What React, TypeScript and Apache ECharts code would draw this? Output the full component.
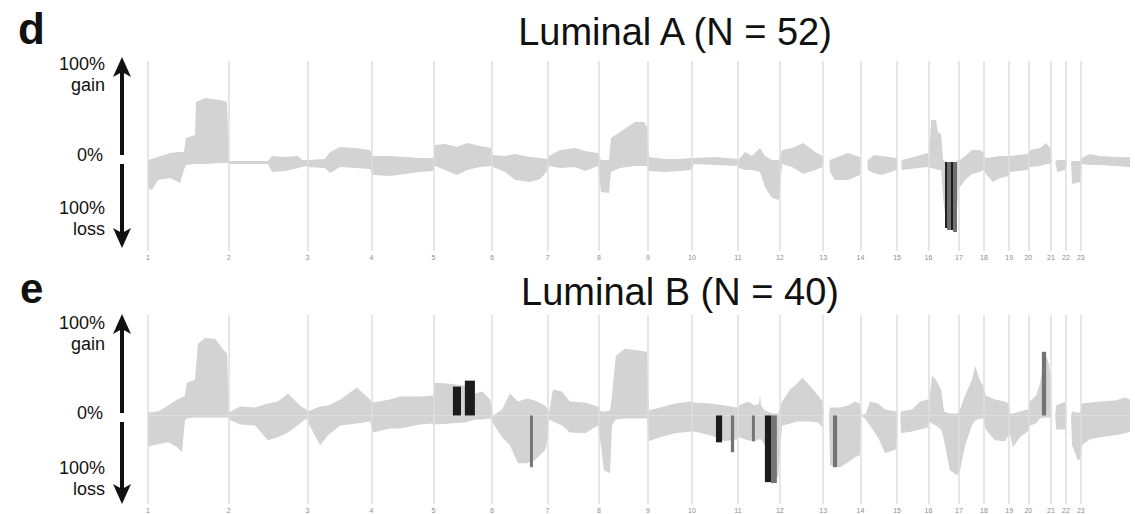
import React, { useEffect, useRef } from 'react';
import * as echarts from 'echarts';

const CHROM_LABELS = ['1','2','3','4','5','6','7','8','9','10','11','12','13','14','15','16','17','18','19','20','21','22','23'];
const CHROM_START = [0, 249, 492, 690, 881, 1062, 1233, 1392, 1543, 1679, 1821, 1950, 2084, 2199, 2312, 2409, 2503, 2580, 2658, 2717, 2787, 2833, 2879];
const GENOME_END = 3034;

// Luminal A (N = 52): genome position (Mb), gain %, loss %
const LUM_A_POS = [0,12,31,68,99,111,117,145,148,176,222,244,
  250,370,383,423,463,475,490,
  494,546,562,593,639,685,
  694,747,793,840,880,
  886,917,954,985,1025,1059,
  1065,1102,1133,1179,1210,1230,
  1238,1272,1318,1349,1389,
  1398,1423,1429,1457,1503,1531,1540,
  1546,1596,1642,1677,
  1685,1750,1818,
  1824,1843,1864,1889,1904,1926,1948,
  1957,1988,2022,2059,2082,
  2086,2103,2105,2120,2161,2197,
  2201,2220,2222,2240,2265,2310,
  2314,2325,2327,2352,2407,
  2411,2417,2432,2438,2448,2454,2463,2494,2501,
  2506,2522,2543,2568,2578,
  2586,2608,2630,2656,
  2661,2715,
  2722,2753,2772,2785,
  2790,2800,2806,2831,
  2836,2849,2852,2877,
  2883,2907,2938,2985,3031];
const LUM_A_GAIN = [2,3,5,9,10,10,24,27,60,64,62,60,
  1,1,6,5,6,2,2,
  2,3,10,15,14,12,
  6,6,5,4,4,
  17,18,15,19,16,14,
  7,6,8,5,4,3,
  6,12,14,11,9,
  2,2,24,30,40,40,35,
  5,3,3,4,
  4,5,3,
  3,10,6,14,6,2,2,
  12,14,19,10,6,
  0,0,2,4,9,5,
  0,0,2,7,6,4,
  0,0,2,4,9,
  5,42,42,30,28,2,0,0,2,
  2,6,12,12,10,
  4,5,6,6,
  6,8,
  12,14,19,14,
  0,0,2,2,
  0,0,1,1,
  4,8,6,5,5];
const LUM_A_LOSS = [26,28,18,16,21,8,3,2,2,2,1,1,
  2,2,10,9,6,5,4,
  5,6,11,5,6,7,
  13,14,12,10,9,
  4,8,13,8,5,4,
  5,10,18,20,17,10,
  4,6,5,9,4,
  30,31,10,6,4,4,4,
  9,10,9,8,
  2,3,4,
  6,8,8,10,25,36,38,
  2,5,12,8,5,
  0,0,10,18,18,13,
  0,0,8,11,13,8,
  0,0,8,7,5,
  5,6,7,8,8,36,60,60,28,
  25,18,12,10,8,
  12,20,16,14,
  10,8,
  5,4,2,2,
  0,0,10,8,
  0,0,22,20,
  2,3,3,4,5];

// Luminal B (N = 40)
const LUM_B_POS = [0,31,62,90,105,114,120,145,154,176,207,228,244,
  250,284,330,370,401,432,469,488,
  494,531,556,593,645,685,
  694,747,778,840,880,
  886,932,978,1012,1031,1056,
  1065,1093,1117,1142,1170,1194,1225,1230,
  1238,1250,1278,1302,1349,1389,
  1398,1407,1426,1432,1444,1472,1518,1540,
  1546,1580,1627,1677,
  1685,1735,1781,1818,
  1824,1852,1873,1886,1889,1892,1904,1926,1945,
  1957,1982,2003,2019,2043,2068,2082,
  2086,2102,2105,2136,2161,2182,2197,
  2201,2216,2228,2253,2275,2310,
  2314,2322,2324,2358,2383,2407,
  2411,2420,2432,2448,2457,2475,2497,
  2506,2522,2543,2553,2568,2578,
  2586,2614,2645,2656,
  2661,2670,2691,2715,
  2722,2741,2753,2769,2781,2785,
  2790,2800,2803,2831,
  2836,2849,2852,2870,2877,
  2883,2907,2938,2985,3016,3031];
const LUM_B_GAIN = [3,4,10,16,18,20,33,36,72,78,77,68,62,
  3,9,8,12,14,22,10,6,
  4,9,10,16,28,16,
  13,16,19,19,20,
  33,32,30,22,24,16,
  0,6,22,14,17,15,10,8,
  4,26,24,14,13,9,
  4,4,5,20,60,67,65,64,
  5,8,12,14,
  13,12,10,8,
  10,14,10,12,22,10,5,2,2,
  14,26,32,38,30,20,14,
  0,0,8,8,10,14,12,
  0,2,14,12,6,4,
  0,0,4,6,14,16,
  14,40,36,26,4,2,2,
  6,20,36,50,35,30,
  20,16,14,12,
  2,2,4,6,
  14,20,32,62,52,40,
  0,0,10,14,
  0,0,4,3,3,
  12,13,14,15,18,16];
const LUM_B_LOSS = [31,29,27,32,37,5,3,2,2,2,2,2,2,
  4,9,10,25,22,17,8,3,
  7,30,20,10,8,6,
  17,13,13,9,8,
  9,8,7,4,4,3,
  8,22,30,48,48,45,35,30,
  4,6,10,17,18,10,
  30,55,58,10,4,3,3,3,
  26,22,18,16,
  16,20,26,24,
  22,25,26,24,24,24,30,60,62,
  10,8,6,6,6,7,12,
  0,0,50,52,47,42,40,
  0,4,10,22,38,34,
  0,0,18,16,14,12,
  6,8,10,14,25,55,60,
  56,30,10,5,3,3,
  14,25,26,20,
  20,32,22,16,
  10,8,3,2,2,2,
  0,0,14,14,
  0,0,30,45,44,
  30,24,22,20,18,16];

// Significant regions: [start Mb, end Mb, value %]
const SIG_A_BLACK = [[2460, 2466, -66], [2478, 2485, -68]];
const SIG_A_GRAY = [[2466, 2478, -68], [2485, 2497, -70]];
const SIG_B_BLACK = [[941, 966, 29], [978, 1009, 35], [1753, 1772, -27], [1904, 1923, -67]];
const SIG_B_GRAY = [[1179, 1188, -52], [1799, 1809, -37], [1864, 1873, -26], [1923, 1941, -68], [2114, 2127, -52], [2759, 2772, 64]];

const TITLES = ['Luminal A (N = 52)', 'Luminal B (N = 40)'];
const PANEL_LETTERS = ['d', 'e'];
const GAIN_LABEL = '100%\ngain';
const ZERO_LABEL = '0%';
const LOSS_LABEL = '100%\nloss';

const FONT = '"Liberation Sans", Arial, Helvetica, sans-serif';
const BAND = '#d3d3d3';
const GRIDLINE = '#dedede';

export default function App() {
  const ref = useRef<HTMLDivElement>(null);
  useEffect(() => {
    if (!ref.current) return;
    const chart = echarts.init(ref.current, null, { renderer: 'svg' });
    const tops = [61, 315];
    const grids = tops.map((t) => ({ left: 148, top: t, width: 983, height: 190 }));
    const xAxes = tops.map((_, i) => ({
      gridIndex: i, type: 'value', min: 0, max: GENOME_END,
      axisLine: { show: false }, axisTick: { show: false }, splitLine: { show: false },
      axisLabel: {
        customValues: CHROM_START,
        formatter: (v: number) => CHROM_LABELS[CHROM_START.indexOf(v)] ?? '',
        fontSize: 7, color: '#8c8c8c', margin: 3, fontFamily: FONT,
      },
    }));
    const yAxes = tops.map((_, i) => ({ gridIndex: i, type: 'value', min: -89, max: 101, show: false }));

    const band = (pos: number[], vals: number[], sign: number, i: number) => ({
      type: 'line', xAxisIndex: i, yAxisIndex: i, silent: true, z: 2,
      data: pos.map((p, k) => [p, sign * vals[k]]),
      symbol: 'none', lineStyle: { width: 0 }, areaStyle: { color: BAND, opacity: 1 },
    });
    const bars = (arr: number[][], color: string, i: number) => ({
      type: 'custom', xAxisIndex: i, yAxisIndex: i, silent: true, z: 3,
      data: arr, encode: { x: [0, 1], y: 2 },
      renderItem: (_p: any, api: any) => {
        const s = api.coord([api.value(0), 0]);
        const e = api.coord([api.value(1), api.value(2)]);
        return {
          type: 'rect',
          shape: { x: s[0], y: Math.min(s[1], e[1]), width: e[0] - s[0], height: Math.abs(e[1] - s[1]) },
          style: { fill: color },
        };
      },
    });
    const lines = (i: number) => ({
      type: 'line', xAxisIndex: i, yAxisIndex: i, silent: true, z: 1,
      data: [[0, 0]], symbol: 'none', lineStyle: { width: 0 },
      markLine: {
        silent: true, symbol: ['none', 'none'], label: { show: false },
        lineStyle: { color: GRIDLINE, width: 1.5, type: 'solid' },
        data: CHROM_START.map((s) => ({ xAxis: s })),
      },
    });

    const txt = (text: string, x: number, y: number, size: number, align = 'right', weight = 'normal', lh?: number) => ({
      type: 'text', x, y, silent: true,
      style: { text, fill: '#111', fontSize: size, fontFamily: FONT, fontWeight: weight, align, verticalAlign: 'middle', lineHeight: lh ?? Math.round(size * 1.2) },
    });
    const arrow = (top: number, gapTop: number, gapBot: number, bot: number) => [
      { type: 'line', shape: { x1: 122, y1: top + 12, x2: 122, y2: gapTop }, style: { stroke: '#111', lineWidth: 4 } },
      { type: 'line', shape: { x1: 122, y1: gapBot, x2: 122, y2: bot - 12 }, style: { stroke: '#111', lineWidth: 4 } },
      { type: 'polygon', shape: { points: [[122, top], [131, top + 20], [122, top + 15], [113, top + 20]] }, style: { fill: '#111' } },
      { type: 'polygon', shape: { points: [[122, bot], [131, bot - 20], [122, bot - 15], [113, bot - 20]] }, style: { fill: '#111' } },
    ];

    const LS = 18; // label font size
    const LH = 21; // label line spacing
    const graphic: any[] = [
      txt(PANEL_LETTERS[0], 18, 28, 44, 'left', 'bold'),
      txt(PANEL_LETTERS[1], 20, 288, 42, 'left', 'bold'),
      txt(TITLES[0], 675, 32, 38, 'center'),
      txt(TITLES[1], 680, 292, 38, 'center'),
      txt(GAIN_LABEL, 105, 74, LS, 'right', 'normal', LH),
      txt(ZERO_LABEL, 103, 155, LS, 'right', 'normal', LH),
      txt(LOSS_LABEL, 105, 218, LS, 'right', 'normal', LH),
      txt(GAIN_LABEL, 105, 333, LS, 'right', 'normal', LH),
      txt(ZERO_LABEL, 103, 413, LS, 'right', 'normal', LH),
      txt(LOSS_LABEL, 105, 478, LS, 'right', 'normal', LH),
      ...arrow(57, 155, 164, 248),
      ...arrow(314, 413, 422, 504),
    ];

    chart.setOption({
      animation: false,
      backgroundColor: '#ffffff',
      grid: grids, xAxis: xAxes, yAxis: yAxes,
      series: [
        lines(0), band(LUM_A_POS, LUM_A_GAIN, 1, 0), band(LUM_A_POS, LUM_A_LOSS, -1, 0),
        bars(SIG_A_GRAY, '#6e6e6e', 0), bars(SIG_A_BLACK, '#1c1c1c', 0),
        lines(1), band(LUM_B_POS, LUM_B_GAIN, 1, 1), band(LUM_B_POS, LUM_B_LOSS, -1, 1),
        bars(SIG_B_GRAY, '#747474', 1), bars(SIG_B_BLACK, '#1c1c1c', 1),
      ],
      graphic,
    });
    return () => chart.dispose();
  }, []);
  return <div ref={ref} style={{ position: 'fixed', left: 0, top: 0, width: 1135, height: 514, background: '#fff' }} />;
}
